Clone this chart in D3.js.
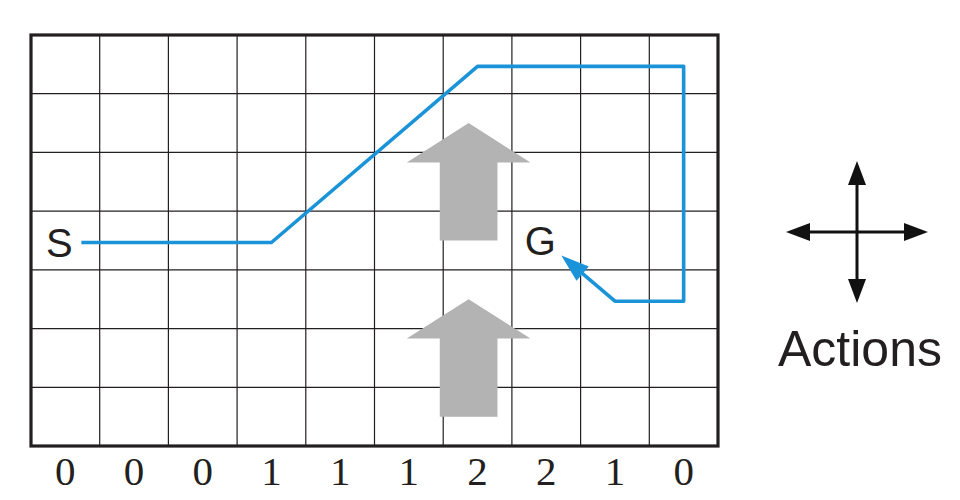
<!DOCTYPE html>
<html>
<head>
<meta charset="utf-8">
<script src="https://cdn.jsdelivr.net/npm/d3@7"></script>
<style>
  body { margin: 0; background: #fff; }
</style>
</head>
<body>
<div id="wrapper"></div>
<script>
// grid size and wind strength per column
const nCols = 10;
const nRows = 7;
const windStrength = [0, 0, 0, 1, 1, 1, 2, 2, 1, 0];

// episode path through cell indices [col, row], start S -> goal G
const pathCells = [[0, 3], [3, 3], [6, 0], [9, 0], [9, 4], [8, 4], [7, 3]];
const startCell = [0, 3];
const goalCell = [7, 3];

// wind arrows: centre column and the rows the arrow spans
const windArrows = [
    { col: 6.37, top: 1.5, bottom: 3.5 },
    { col: 6.37, top: 4.5, bottom: 6.5 }
];

// action directions [dx, dy]
const actions = [[0, -1], [0, 1], [-1, 0], [1, 0]];

const dimension = { width: 960, height: 500 };
const blue = "#1b93d8";
const ink = "#231f20";

const svg = d3.select("#wrapper")
    .append("svg")
    .attr("width", dimension.width)
    .attr("height", dimension.height);

const xScaler = d3.scaleLinear().domain([0, nCols]).range([31, 718]);
const yScaler = d3.scaleLinear().domain([0, nRows]).range([35, 446]);

// thin inner grid lines
const grid = svg.append("g");
grid.selectAll("line.v")
    .data(d3.range(1, nCols))
    .enter().append("line")
    .attr("x1", d => xScaler(d)).attr("x2", d => xScaler(d))
    .attr("y1", yScaler(0)).attr("y2", yScaler(nRows))
    .attr("stroke", ink).attr("stroke-width", 1.2);
grid.selectAll("line.h")
    .data(d3.range(1, nRows))
    .enter().append("line")
    .attr("x1", xScaler(0)).attr("x2", xScaler(nCols))
    .attr("y1", d => yScaler(d)).attr("y2", d => yScaler(d))
    .attr("stroke", ink).attr("stroke-width", 1.2);

// wind arrows (block arrows in grey)
const arrowPath = d => {
    const cx = xScaler(d.col);
    const headHalf = (xScaler(0.9) - xScaler(0));
    const shaftHalf = (xScaler(0.42) - xScaler(0));
    const tip = yScaler(d.top);
    const base = yScaler(d.top + 0.67);
    const bot = yScaler(d.bottom);
    return `M${cx},${tip} L${cx + headHalf},${base} L${cx + shaftHalf},${base} L${cx + shaftHalf},${bot}
            L${cx - shaftHalf},${bot} L${cx - shaftHalf},${base} L${cx - headHalf},${base} Z`;
};
svg.append("g").selectAll("path")
    .data(windArrows)
    .enter().append("path")
    .attr("d", arrowPath)
    .attr("fill", "#b3b3b3");

// outer border
svg.append("rect")
    .attr("x", xScaler(0)).attr("y", yScaler(0))
    .attr("width", xScaler(nCols) - xScaler(0))
    .attr("height", yScaler(nRows) - yScaler(0))
    .attr("fill", "none")
    .attr("stroke", ink)
    .attr("stroke-width", 3.2);

// path of the episode through cell centres
const yOff = 2;
const pts = pathCells.map(c => [xScaler(c[0] + 0.5), yScaler(c[1] + 0.5) + yOff]);
pts[0] = [pts[0][0] + 16, pts[0][1]];
const last = pts[pts.length - 1], prev = pts[pts.length - 2];
const frac = 0.78;
const tip = [prev[0] + (last[0] - prev[0]) * frac, prev[1] + (last[1] - prev[1]) * frac];
const dx = tip[0] - prev[0], dy = tip[1] - prev[1];
const len = Math.hypot(dx, dy);
const ux = dx / len, uy = dy / len;
const headLen = 28, headHalf = 9.5;
const baseC = [tip[0] - ux * headLen, tip[1] - uy * headLen];
const linePts = pts.slice(0, -1).concat([[baseC[0] + ux * 2, baseC[1] + uy * 2]]);

svg.append("path")
    .attr("d", d3.line()(linePts))
    .attr("fill", "none")
    .attr("stroke", blue)
    .attr("stroke-width", 3.6)
    .attr("stroke-linejoin", "round");

svg.append("path")
    .attr("d", d3.line()([
        tip,
        [baseC[0] - uy * headHalf, baseC[1] + ux * headHalf],
        [baseC[0] + uy * headHalf, baseC[1] - ux * headHalf]
    ]) + "Z")
    .attr("fill", blue);

// start and goal labels
svg.append("text")
    .attr("x", xScaler(startCell[0] + 0.5) - 6)
    .attr("y", yScaler(startCell[1] + 0.5) + 16)
    .attr("text-anchor", "middle")
    .attr("font-family", "Liberation Sans, Arial, sans-serif")
    .attr("font-size", 40)
    .attr("fill", ink)
    .text("S");
svg.append("text")
    .attr("x", xScaler(goalCell[0] + 0.5) - 6)
    .attr("y", yScaler(goalCell[1] + 0.5) + 14)
    .attr("text-anchor", "middle")
    .attr("font-family", "Liberation Sans, Arial, sans-serif")
    .attr("font-size", 40)
    .attr("fill", ink)
    .text("G");

// wind strength row under the grid
svg.append("g").selectAll("text")
    .data(windStrength)
    .enter().append("text")
    .attr("x", (d, i) => xScaler(i + 0.5))
    .attr("y", 485)
    .attr("text-anchor", "middle")
    .attr("font-family", "Liberation Serif, Times New Roman, serif")
    .attr("font-size", 41)
    .attr("fill", ink)
    .text(d => d);

// actions cross
const cross = { x: 857, y: 232, arm: 71 };
const act = svg.append("g");
act.selectAll("line")
    .data(actions)
    .enter().append("line")
    .attr("x1", cross.x).attr("y1", cross.y)
    .attr("x2", d => cross.x + d[0] * (cross.arm - 22))
    .attr("y2", d => cross.y + d[1] * (cross.arm - 22))
    .attr("stroke", "#111")
    .attr("stroke-width", 3);
act.selectAll("path")
    .data(actions)
    .enter().append("path")
    .attr("d", d => {
        const tx = cross.x + d[0] * cross.arm, ty = cross.y + d[1] * cross.arm;
        const bx = tx - d[0] * 24, by = ty - d[1] * 24;
        return d3.line()([[tx, ty], [bx - d[1] * 9, by + d[0] * 9], [bx + d[1] * 9, by - d[0] * 9]]) + "Z";
    })
    .attr("fill", "#111");

svg.append("text")
    .attr("x", 860)
    .attr("y", 366)
    .attr("text-anchor", "middle")
    .attr("font-family", "Liberation Sans, Arial, sans-serif")
    .attr("font-size", 50)
    .attr("fill", ink)
    .text("Actions");
</script>
</body>
</html>
